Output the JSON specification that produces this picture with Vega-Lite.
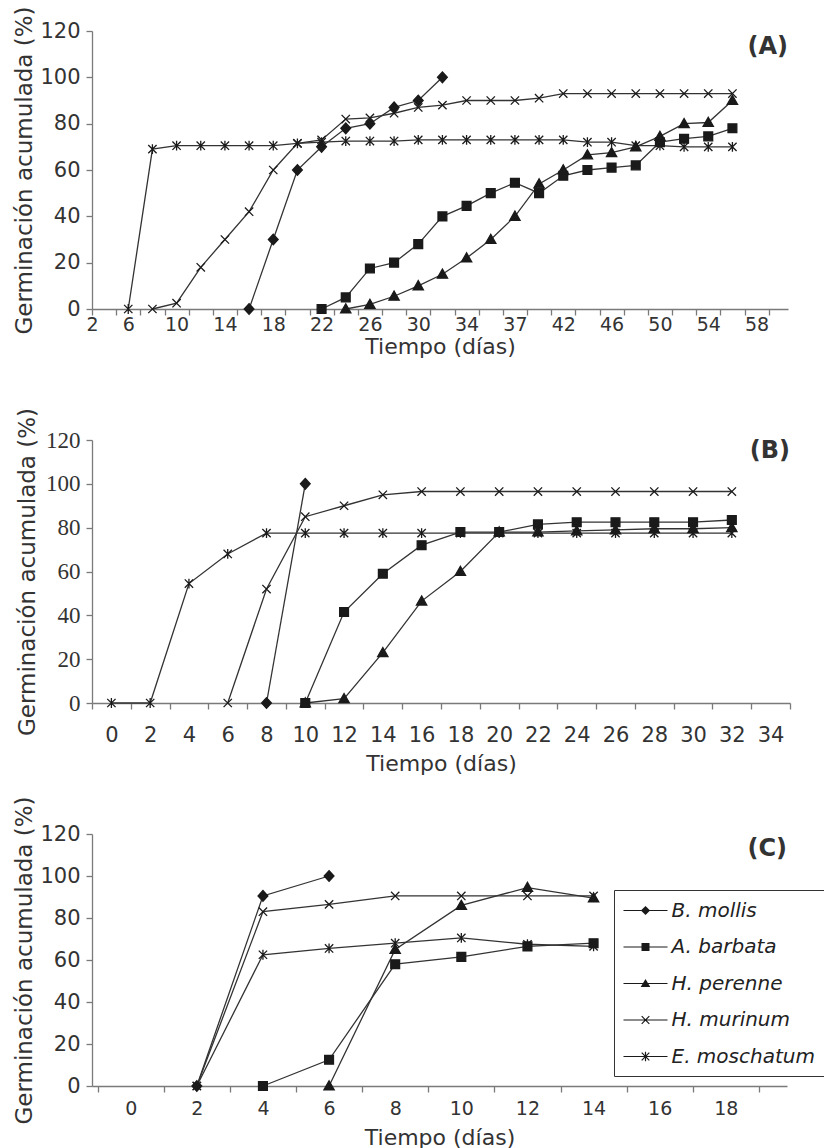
{
  "$schema": "https://vega.github.io/schema/vega-lite/v6.json",
  "background": "white",
  "padding": {"left": 13, "top": 5, "right": 0, "bottom": 0},
  "bounds": "flush",
  "spacing": 131,
  "config": {
    "view": {"stroke": null},
    "font": "DejaVu Sans",
    "axis": {
      "domainColor": "#7a7a7a", "tickColor": "#7a7a7a", "domainWidth": 1.3, "tickWidth": 1.3,
      "labelColor": "#333333", "titleColor": "#333333",
      "labelFont": "DejaVu Sans", "titleFont": "DejaVu Sans",
      "labelFontSize": 20, "titleFontSize": 22, "titleFontWeight": "normal",
      "grid": false, "tickSize": 6
    },
    "axisY": {"titleFontSize": 23, "labelFontSize": 21}
  },
  "datasets": {
    "A": [
      {"especie": "E. moschatum", "dia": 6, "germ": 0},
      {"especie": "E. moschatum", "dia": 8, "germ": 69},
      {"especie": "E. moschatum", "dia": 10, "germ": 70.5},
      {"especie": "E. moschatum", "dia": 12, "germ": 70.5},
      {"especie": "E. moschatum", "dia": 14, "germ": 70.5},
      {"especie": "E. moschatum", "dia": 16, "germ": 70.5},
      {"especie": "E. moschatum", "dia": 18, "germ": 70.5},
      {"especie": "E. moschatum", "dia": 20, "germ": 71.5},
      {"especie": "E. moschatum", "dia": 22, "germ": 72},
      {"especie": "E. moschatum", "dia": 24, "germ": 72.5},
      {"especie": "E. moschatum", "dia": 26, "germ": 72.5},
      {"especie": "E. moschatum", "dia": 28, "germ": 72.5},
      {"especie": "E. moschatum", "dia": 30, "germ": 73},
      {"especie": "E. moschatum", "dia": 32, "germ": 73},
      {"especie": "E. moschatum", "dia": 34, "germ": 73},
      {"especie": "E. moschatum", "dia": 36, "germ": 73},
      {"especie": "E. moschatum", "dia": 38, "germ": 73},
      {"especie": "E. moschatum", "dia": 40, "germ": 73},
      {"especie": "E. moschatum", "dia": 42, "germ": 73},
      {"especie": "E. moschatum", "dia": 44, "germ": 72},
      {"especie": "E. moschatum", "dia": 46, "germ": 72},
      {"especie": "E. moschatum", "dia": 48, "germ": 70.5},
      {"especie": "E. moschatum", "dia": 50, "germ": 70.5},
      {"especie": "E. moschatum", "dia": 52, "germ": 70},
      {"especie": "E. moschatum", "dia": 54, "germ": 70},
      {"especie": "E. moschatum", "dia": 56, "germ": 70},
      {"especie": "H. murinum", "dia": 8, "germ": 0},
      {"especie": "H. murinum", "dia": 10, "germ": 2.5},
      {"especie": "H. murinum", "dia": 12, "germ": 18},
      {"especie": "H. murinum", "dia": 14, "germ": 30},
      {"especie": "H. murinum", "dia": 16, "germ": 42},
      {"especie": "H. murinum", "dia": 18, "germ": 60},
      {"especie": "H. murinum", "dia": 20, "germ": 71.5},
      {"especie": "H. murinum", "dia": 22, "germ": 73},
      {"especie": "H. murinum", "dia": 24, "germ": 82},
      {"especie": "H. murinum", "dia": 26, "germ": 82.5},
      {"especie": "H. murinum", "dia": 28, "germ": 84.5},
      {"especie": "H. murinum", "dia": 30, "germ": 87},
      {"especie": "H. murinum", "dia": 32, "germ": 88},
      {"especie": "H. murinum", "dia": 34, "germ": 90},
      {"especie": "H. murinum", "dia": 36, "germ": 90},
      {"especie": "H. murinum", "dia": 38, "germ": 90},
      {"especie": "H. murinum", "dia": 40, "germ": 91},
      {"especie": "H. murinum", "dia": 42, "germ": 93},
      {"especie": "H. murinum", "dia": 44, "germ": 93},
      {"especie": "H. murinum", "dia": 46, "germ": 93},
      {"especie": "H. murinum", "dia": 48, "germ": 93},
      {"especie": "H. murinum", "dia": 50, "germ": 93},
      {"especie": "H. murinum", "dia": 52, "germ": 93},
      {"especie": "H. murinum", "dia": 54, "germ": 93},
      {"especie": "H. murinum", "dia": 56, "germ": 93},
      {"especie": "B. mollis", "dia": 16, "germ": 0},
      {"especie": "B. mollis", "dia": 18, "germ": 30},
      {"especie": "B. mollis", "dia": 20, "germ": 60},
      {"especie": "B. mollis", "dia": 22, "germ": 70},
      {"especie": "B. mollis", "dia": 24, "germ": 78},
      {"especie": "B. mollis", "dia": 26, "germ": 80},
      {"especie": "B. mollis", "dia": 28, "germ": 87},
      {"especie": "B. mollis", "dia": 30, "germ": 90},
      {"especie": "B. mollis", "dia": 32, "germ": 100},
      {"especie": "A. barbata", "dia": 22, "germ": 0},
      {"especie": "A. barbata", "dia": 24, "germ": 5},
      {"especie": "A. barbata", "dia": 26, "germ": 17.5},
      {"especie": "A. barbata", "dia": 28, "germ": 20},
      {"especie": "A. barbata", "dia": 30, "germ": 28},
      {"especie": "A. barbata", "dia": 32, "germ": 40},
      {"especie": "A. barbata", "dia": 34, "germ": 44.5},
      {"especie": "A. barbata", "dia": 36, "germ": 50},
      {"especie": "A. barbata", "dia": 38, "germ": 54.5},
      {"especie": "A. barbata", "dia": 40, "germ": 50},
      {"especie": "A. barbata", "dia": 42, "germ": 57.5},
      {"especie": "A. barbata", "dia": 44, "germ": 60},
      {"especie": "A. barbata", "dia": 46, "germ": 61},
      {"especie": "A. barbata", "dia": 48, "germ": 62},
      {"especie": "A. barbata", "dia": 50, "germ": 72},
      {"especie": "A. barbata", "dia": 52, "germ": 73.5},
      {"especie": "A. barbata", "dia": 54, "germ": 74.5},
      {"especie": "A. barbata", "dia": 56, "germ": 78},
      {"especie": "H. perenne", "dia": 24, "germ": 0},
      {"especie": "H. perenne", "dia": 26, "germ": 2},
      {"especie": "H. perenne", "dia": 28, "germ": 5.5},
      {"especie": "H. perenne", "dia": 30, "germ": 10},
      {"especie": "H. perenne", "dia": 32, "germ": 15},
      {"especie": "H. perenne", "dia": 34, "germ": 22},
      {"especie": "H. perenne", "dia": 36, "germ": 30},
      {"especie": "H. perenne", "dia": 38, "germ": 40},
      {"especie": "H. perenne", "dia": 40, "germ": 54},
      {"especie": "H. perenne", "dia": 42, "germ": 60},
      {"especie": "H. perenne", "dia": 44, "germ": 66.5},
      {"especie": "H. perenne", "dia": 46, "germ": 67.5},
      {"especie": "H. perenne", "dia": 48, "germ": 70},
      {"especie": "H. perenne", "dia": 50, "germ": 74.5},
      {"especie": "H. perenne", "dia": 52, "germ": 80},
      {"especie": "H. perenne", "dia": 54, "germ": 80.5},
      {"especie": "H. perenne", "dia": 56, "germ": 90}
    ],
    "B": [
      {"especie": "E. moschatum", "dia": 0, "germ": 0},
      {"especie": "E. moschatum", "dia": 2, "germ": 0},
      {"especie": "E. moschatum", "dia": 4, "germ": 54.5},
      {"especie": "E. moschatum", "dia": 6, "germ": 68},
      {"especie": "E. moschatum", "dia": 8, "germ": 77.5},
      {"especie": "E. moschatum", "dia": 10, "germ": 77.5},
      {"especie": "E. moschatum", "dia": 12, "germ": 77.5},
      {"especie": "E. moschatum", "dia": 14, "germ": 77.5},
      {"especie": "E. moschatum", "dia": 16, "germ": 77.5},
      {"especie": "E. moschatum", "dia": 18, "germ": 77.5},
      {"especie": "E. moschatum", "dia": 20, "germ": 77.5},
      {"especie": "E. moschatum", "dia": 22, "germ": 77.5},
      {"especie": "E. moschatum", "dia": 24, "germ": 77.5},
      {"especie": "E. moschatum", "dia": 26, "germ": 77.5},
      {"especie": "E. moschatum", "dia": 28, "germ": 77.5},
      {"especie": "E. moschatum", "dia": 30, "germ": 77.5},
      {"especie": "E. moschatum", "dia": 32, "germ": 77.5},
      {"especie": "H. murinum", "dia": 6, "germ": 0},
      {"especie": "H. murinum", "dia": 8, "germ": 52},
      {"especie": "H. murinum", "dia": 10, "germ": 85},
      {"especie": "H. murinum", "dia": 12, "germ": 90},
      {"especie": "H. murinum", "dia": 14, "germ": 95},
      {"especie": "H. murinum", "dia": 16, "germ": 96.5},
      {"especie": "H. murinum", "dia": 18, "germ": 96.5},
      {"especie": "H. murinum", "dia": 20, "germ": 96.5},
      {"especie": "H. murinum", "dia": 22, "germ": 96.5},
      {"especie": "H. murinum", "dia": 24, "germ": 96.5},
      {"especie": "H. murinum", "dia": 26, "germ": 96.5},
      {"especie": "H. murinum", "dia": 28, "germ": 96.5},
      {"especie": "H. murinum", "dia": 30, "germ": 96.5},
      {"especie": "H. murinum", "dia": 32, "germ": 96.5},
      {"especie": "B. mollis", "dia": 8, "germ": 0},
      {"especie": "B. mollis", "dia": 10, "germ": 100},
      {"especie": "A. barbata", "dia": 10, "germ": 0},
      {"especie": "A. barbata", "dia": 12, "germ": 41.5},
      {"especie": "A. barbata", "dia": 14, "germ": 59},
      {"especie": "A. barbata", "dia": 16, "germ": 72},
      {"especie": "A. barbata", "dia": 18, "germ": 78},
      {"especie": "A. barbata", "dia": 20, "germ": 78},
      {"especie": "A. barbata", "dia": 22, "germ": 81.5},
      {"especie": "A. barbata", "dia": 24, "germ": 82.5},
      {"especie": "A. barbata", "dia": 26, "germ": 82.5},
      {"especie": "A. barbata", "dia": 28, "germ": 82.5},
      {"especie": "A. barbata", "dia": 30, "germ": 82.5},
      {"especie": "A. barbata", "dia": 32, "germ": 83.5},
      {"especie": "H. perenne", "dia": 10, "germ": 0},
      {"especie": "H. perenne", "dia": 12, "germ": 2},
      {"especie": "H. perenne", "dia": 14, "germ": 23},
      {"especie": "H. perenne", "dia": 16, "germ": 46.5},
      {"especie": "H. perenne", "dia": 18, "germ": 60},
      {"especie": "H. perenne", "dia": 20, "germ": 78},
      {"especie": "H. perenne", "dia": 22, "germ": 78},
      {"especie": "H. perenne", "dia": 24, "germ": 78.5},
      {"especie": "H. perenne", "dia": 26, "germ": 79},
      {"especie": "H. perenne", "dia": 28, "germ": 79.5},
      {"especie": "H. perenne", "dia": 30, "germ": 79.5},
      {"especie": "H. perenne", "dia": 32, "germ": 80}
    ],
    "C": [
      {"especie": "B. mollis", "dia": 2, "germ": 0},
      {"especie": "B. mollis", "dia": 4, "germ": 90.5},
      {"especie": "B. mollis", "dia": 6, "germ": 100},
      {"especie": "A. barbata", "dia": 4, "germ": 0},
      {"especie": "A. barbata", "dia": 6, "germ": 12.5},
      {"especie": "A. barbata", "dia": 8, "germ": 58},
      {"especie": "A. barbata", "dia": 10, "germ": 61.5},
      {"especie": "A. barbata", "dia": 12, "germ": 66.5},
      {"especie": "A. barbata", "dia": 14, "germ": 68},
      {"especie": "H. perenne", "dia": 6, "germ": 0},
      {"especie": "H. perenne", "dia": 8, "germ": 65},
      {"especie": "H. perenne", "dia": 10, "germ": 86},
      {"especie": "H. perenne", "dia": 12, "germ": 94.5},
      {"especie": "H. perenne", "dia": 14, "germ": 89.5},
      {"especie": "H. murinum", "dia": 2, "germ": 0},
      {"especie": "H. murinum", "dia": 4, "germ": 83},
      {"especie": "H. murinum", "dia": 6, "germ": 86.5},
      {"especie": "H. murinum", "dia": 8, "germ": 90.5},
      {"especie": "H. murinum", "dia": 10, "germ": 90.5},
      {"especie": "H. murinum", "dia": 12, "germ": 90.5},
      {"especie": "H. murinum", "dia": 14, "germ": 90.5},
      {"especie": "E. moschatum", "dia": 2, "germ": 0},
      {"especie": "E. moschatum", "dia": 4, "germ": 62.5},
      {"especie": "E. moschatum", "dia": 6, "germ": 65.5},
      {"especie": "E. moschatum", "dia": 8, "germ": 68},
      {"especie": "E. moschatum", "dia": 10, "germ": 70.5},
      {"especie": "E. moschatum", "dia": 12, "germ": 67.5},
      {"especie": "E. moschatum", "dia": 14, "germ": 66.5}
    ]
  },
  "resolve": {"scale": {"shape": "independent"}, "legend": {"shape": "independent"}},
  "vconcat": [
    {
      "width": 696, "height": 278,
      "data": {"name": "A"},
      "encoding": {
        "x": {"field": "dia", "type": "quantitative",
          "scale": {"domain": [3, 60.6], "nice": false, "zero": false},
          "axis": {"title": "Tiempo (días)",
            "values": [3,4,5,6,7,8,9,10,11,12,13,14,15,16,17,18,19,20,21,22,23,24,25,26,27,28,29,30,31,32,33,34,35,36,37,38,39,40,41,42,43,44,45,46,47,48,49,50,51,52,53,54,55,56,57,58,59,60],
            "labelExpr": "datum.value == 3 ? '2' : datum.value == 38 ? '37' : ((datum.value - 6) % 4 == 0 && datum.value >= 6) ? datum.label : ''",
            "tickOpacity": {"condition": {"test": "datum.value % 2 != 0", "value": 1}, "value": 0},
            "labelFlush": false, "labelOverlap": false, "labelPadding": 0, "labelFontSize": 19, "titlePadding": 2}},
        "y": {"field": "germ", "type": "quantitative",
          "scale": {"domain": [0, 120], "nice": false},
          "axis": {"title": "Germinación acumulada (%)", "values": [0,20,40,60,80,100,120], "labelPadding": 6, "titlePadding": 3}}
      },
      "layer": [
        {"mark": {"type": "line", "color": "#333333", "strokeWidth": 1.3},
         "encoding": {"detail": {"field": "especie"}, "order": {"field": "dia"}}},
        {"mark": {"type": "point", "filled": true, "fill": "#1a1a1a", "stroke": "#1a1a1a", "strokeWidth": 1.3, "size": 96, "opacity": 1},
         "encoding": {"shape": {"field": "especie", "type": "nominal", "legend": null,
           "scale": {"domain": ["B. mollis", "A. barbata", "H. perenne", "H. murinum", "E. moschatum"],
             "range": ["M0,-1.1L1,0L0,1.1L-1,0Z", "M-0.9,-0.9H0.9V0.9H-0.9Z", "M0,-1.05L1.05,0.8H-1.05Z", "M-0.85,-0.85L0.85,0.85M-0.85,0.85L0.85,-0.85", "M-0.85,-0.85L0.85,0.85M-0.85,0.85L0.85,-0.85M0,-1V1"]}}}},
        {"transform": [{"filter": "datum.especie == 'B. mollis' && datum.dia == 32"}],
         "mark": {"type": "text", "text": "(A)", "font": "DejaVu Sans", "fontWeight": "bold", "fontSize": 24, "align": "right", "baseline": "middle", "fill": "#333333"},
         "encoding": {"x": {"datum": 60.6, "type": "quantitative"}, "y": {"datum": 113, "type": "quantitative"}}}
      ]
    },
    {
      "width": 698, "height": 263,
      "data": {"name": "B"},
      "encoding": {
        "x": {"field": "dia", "type": "quantitative",
          "scale": {"domain": [-1, 35], "nice": false, "zero": false},
          "axis": {"title": "Tiempo (días)",
            "values": [-1,0,1,2,3,4,5,6,7,8,9,10,11,12,13,14,15,16,17,18,19,20,21,22,23,24,25,26,27,28,29,30,31,32,33,34,35],
            "labelExpr": "datum.value % 2 == 0 ? datum.label : ''",
            "tickOpacity": {"condition": {"test": "datum.value % 2 != 0", "value": 1}, "value": 0},
            "labelFlush": false, "labelOverlap": false, "labelPadding": 15, "labelFontSize": 21, "titlePadding": 8}},
        "y": {"field": "germ", "type": "quantitative",
          "scale": {"domain": [0, 120], "nice": false},
          "axis": {"title": "Germinación acumulada (%)", "values": [0,20,40,60,80,100,120], "labelPadding": 6, "titlePadding": 6,
            "labelFont": "Liberation Serif", "labelFontSize": 23}}
      },
      "layer": [
        {"mark": {"type": "line", "color": "#333333", "strokeWidth": 1.3},
         "encoding": {"detail": {"field": "especie"}, "order": {"field": "dia"}}},
        {"mark": {"type": "point", "filled": true, "fill": "#1a1a1a", "stroke": "#1a1a1a", "strokeWidth": 1.3, "size": 96, "opacity": 1},
         "encoding": {"shape": {"field": "especie", "type": "nominal", "legend": null,
           "scale": {"domain": ["B. mollis", "A. barbata", "H. perenne", "H. murinum", "E. moschatum"],
             "range": ["M0,-1.1L1,0L0,1.1L-1,0Z", "M-0.9,-0.9H0.9V0.9H-0.9Z", "M0,-1.05L1.05,0.8H-1.05Z", "M-0.85,-0.85L0.85,0.85M-0.85,0.85L0.85,-0.85", "M-0.85,-0.85L0.85,0.85M-0.85,0.85L0.85,-0.85M0,-1V1"]}}}},
        {"transform": [{"filter": "datum.especie == 'B. mollis' && datum.dia == 10"}],
         "mark": {"type": "text", "text": "(B)", "font": "DejaVu Sans", "fontWeight": "bold", "fontSize": 24, "align": "right", "baseline": "middle", "fill": "#333333"},
         "encoding": {"x": {"datum": 35, "type": "quantitative"}, "y": {"datum": 115, "type": "quantitative"}}}
      ]
    },
    {
      "width": 695, "height": 252,
      "data": {"name": "C"},
      "resolve": {"scale": {"shape": "independent"}, "legend": {"shape": "independent"}},
      "encoding": {
        "x": {"field": "dia", "type": "quantitative",
          "scale": {"domain": [-1.17, 19.85], "nice": false, "zero": false},
          "axis": {"title": "Tiempo (días)",
            "values": [-1,0,1,2,3,4,5,6,7,8,9,10,11,12,13,14,15,16,17,18,19],
            "labelExpr": "datum.value % 2 == 0 ? datum.label : ''",
            "tickOpacity": {"condition": {"test": "datum.value % 2 != 0", "value": 1}, "value": 0},
            "labelFlush": false, "labelOverlap": false, "labelPadding": 7, "labelFontSize": 19, "titlePadding": 9}},
        "y": {"field": "germ", "type": "quantitative",
          "scale": {"domain": [0, 120], "nice": false},
          "axis": {"title": "Germinación acumulada (%)", "values": [0,20,40,60,80,100,120], "labelPadding": 6, "titlePadding": 3}}
      },
      "layer": [
        {"mark": {"type": "line", "color": "#333333", "strokeWidth": 1.3},
         "encoding": {"detail": {"field": "especie"}, "order": {"field": "dia"}}},
        {"mark": {"type": "point", "filled": true, "fill": "#1a1a1a", "stroke": "#1a1a1a", "strokeWidth": 1.3, "size": 96, "opacity": 1},
         "encoding": {"shape": {"field": "especie", "type": "nominal", "legend": null,
           "scale": {"domain": ["B. mollis", "A. barbata", "H. perenne", "H. murinum", "E. moschatum"],
             "range": ["M0,-1.1L1,0L0,1.1L-1,0Z", "M-0.9,-0.9H0.9V0.9H-0.9Z", "M0,-1.05L1.05,0.8H-1.05Z", "M-0.85,-0.85L0.85,0.85M-0.85,0.85L0.85,-0.85", "M-0.85,-0.85L0.85,0.85M-0.85,0.85L0.85,-0.85M0,-1V1"]}}}},
        {"transform": [{"filter": "false"}],
         "mark": {"type": "point", "filled": true, "fill": "#1a1a1a", "strokeWidth": 0, "size": 400, "opacity": 1},
         "encoding": {"shape": {"field": "especie", "type": "nominal",
           "scale": {"domain": ["B. mollis", "A. barbata", "H. perenne", "H. murinum", "E. moschatum"],
             "range": [
               "M-2.2,-0.06H2.2V0.06H-2.2ZM0,-0.46L0.46,0L0,0.46L-0.46,0Z",
               "M-2.2,-0.06H2.2V0.06H-2.2ZM-0.4,-0.4H0.4V0.4H-0.4Z",
               "M-2.2,-0.06H2.2V0.06H-2.2ZM0,-0.46L0.48,0.36H-0.48Z",
               "M-2.2,-0.06H2.2V0.06H-2.2ZM-0.338,-0.422L0.422,0.338L0.338,0.422L-0.422,-0.338ZM-0.338,0.422L-0.422,0.338L0.338,-0.422L0.422,-0.338Z",
               "M-2.2,-0.06H2.2V0.06H-2.2ZM-0.338,-0.422L0.422,0.338L0.338,0.422L-0.422,-0.338ZM-0.338,0.422L-0.422,0.338L0.338,-0.422L0.422,-0.338ZM-0.06,-0.48H0.06V0.48H-0.06Z"]},
           "legend": {
             "title": null, "orient": "none", "legendX": 522, "legendY": 56, "direction": "vertical",
             "padding": 9.5, "strokeColor": "#333333", "fillColor": "white",
             "symbolSize": 400, "symbolFillColor": "#1a1a1a", "symbolOpacity": 1,
             "symbolOffset": 11,
             "labelFont": "DejaVu Sans", "labelFontStyle": "italic", "labelFontSize": 20, "labelColor": "#222222",
             "labelOffset": 15, "rowPadding": 15.5, "labelLimit": 400
           }}}},
        {"transform": [{"filter": "datum.especie == 'B. mollis' && datum.dia == 6"}],
         "mark": {"type": "text", "text": "(C)", "font": "DejaVu Sans", "fontWeight": "bold", "fontSize": 24, "align": "right", "baseline": "middle", "fill": "#333333"},
         "encoding": {"x": {"datum": 19.85, "type": "quantitative"}, "y": {"datum": 113, "type": "quantitative"}}}
      ]
    }
  ]
}
